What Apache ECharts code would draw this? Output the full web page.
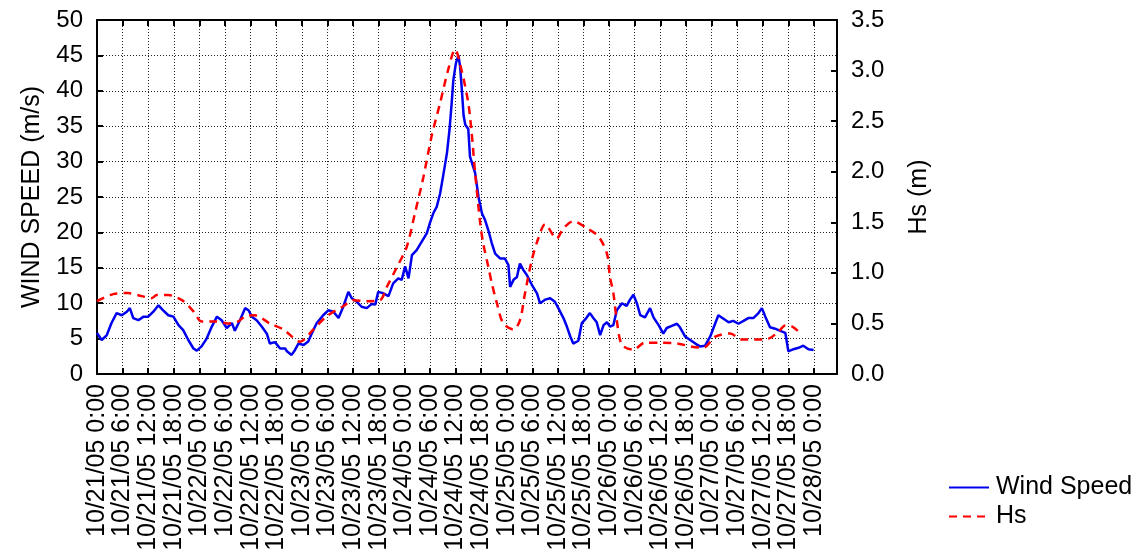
<!DOCTYPE html>
<html>
<head>
<meta charset="utf-8">
<script src="https://cdn.jsdelivr.net/npm/echarts@6/dist/echarts.min.js"></script>
<style>
html,body{margin:0;padding:0;background:#fff;}
#chart{width:1144px;height:560px;}
</style>
</head>
<body>
<div id="chart"></div>
<script>
// hours since 10/21/05 0:00
const xTickLabels = [
  '10/21/05 0:00','10/21/05 6:00','10/21/05 12:00','10/21/05 18:00',
  '10/22/05 0:00','10/22/05 6:00','10/22/05 12:00','10/22/05 18:00',
  '10/23/05 0:00','10/23/05 6:00','10/23/05 12:00','10/23/05 18:00',
  '10/24/05 0:00','10/24/05 6:00','10/24/05 12:00','10/24/05 18:00',
  '10/25/05 0:00','10/25/05 6:00','10/25/05 12:00','10/25/05 18:00',
  '10/26/05 0:00','10/26/05 6:00','10/26/05 12:00','10/26/05 18:00',
  '10/27/05 0:00','10/27/05 6:00','10/27/05 12:00','10/27/05 18:00',
  '10/28/05 0:00'
];
const windHours = [0,1.1,2.3,3.4,4.6,5.8,7.0,7.7,8.5,9.7,10.9,12.0,13.2,14.4,15.5,16.7,17.9,19.1,20.2,21.4,22.6,23.4,24.5,25.7,26.9,28.1,29.2,30.4,31.6,32.3,33.5,34.7,35.5,36.3,37.4,38.6,39.8,40.5,41.7,42.9,44.1,44.5,45.6,46.4,47.2,48.4,49.5,50.3,51.5,53.0,54.2,55.4,56.6,57.7,58.9,59.7,60.9,62.0,63.2,64.4,65.2,65.9,67.1,68.3,69.4,70.6,71.4,72.2,73.0,73.8,74.9,76.1,77.3,78.0,78.8,79.6,80.4,81.2,82.0,82.6,83.1,83.5,84.1,84.7,85.1,85.5,85.9,86.3,87.0,87.4,88.6,89.4,90.2,90.9,91.7,92.5,93.3,94.5,95.6,96.4,96.8,97.6,98.4,99.1,99.9,100.7,101.9,103.1,103.8,105.0,106.2,107.3,108.1,109.3,110.1,110.9,111.6,112.8,113.6,114.4,115.5,116.3,117.1,117.9,118.7,119.5,120.2,121.0,121.8,123.0,124.1,124.9,125.7,126.5,127.3,128.4,129.6,130.4,131.6,132.7,133.5,134.7,135.9,136.6,137.8,139.0,140.2,141.3,142.5,143.7,144.9,145.6,146.8,148.0,149.1,150.3,151.5,152.6,153.8,155.0,155.8,156.6,157.7,158.9,160.1,161.3,161.6,162.0,163.2,164.4,165.5,166.7,167.9];
const windSpeed = [5.8,4.8,5.5,7.2,8.6,8.3,8.8,9.3,7.9,7.6,8.1,8.1,8.8,9.7,9.0,8.3,8.1,6.9,6.2,4.8,3.6,3.3,3.9,5.0,6.7,8.1,7.6,6.5,7.2,6.1,7.6,9.3,9.0,8.1,7.6,6.7,5.7,4.3,4.5,3.6,3.6,3.2,2.7,3.4,4.3,4.1,4.6,5.7,7.2,8.3,9.0,8.8,7.9,9.5,11.6,10.7,10.2,9.5,9.3,9.9,9.8,11.6,11.4,11.0,12.8,13.5,13.3,15.2,13.5,16.8,17.5,18.7,19.9,21.3,22.7,23.6,25.5,28.3,31.2,34.5,38.2,41.5,43.9,45.0,43.3,40.1,36.5,35.2,34.6,30.7,28.4,25.0,22.7,21.8,20.3,18.5,17.0,16.3,16.3,15.4,12.3,13.3,13.7,15.6,14.7,14.0,12.6,11.4,10.0,10.5,10.7,10.2,9.3,7.9,6.7,5.3,4.3,4.7,7.2,7.7,8.6,7.9,7.3,5.5,6.9,7.3,6.7,6.9,9.0,10.0,9.6,10.5,11.2,10.0,8.3,8.0,9.3,8.0,6.9,5.7,6.5,6.8,7.1,6.6,5.3,4.8,4.3,3.9,4.0,5.3,7.2,8.3,7.8,7.3,7.5,7.1,7.5,7.9,7.9,8.6,9.3,8.1,6.6,6.4,6.1,5.8,6.0,3.2,3.5,3.7,4.0,3.5,3.4];
const hsHours = [0,3.8,7.3,10.5,12.8,14.0,16.7,19.9,22.6,24.5,27.7,30.8,33.1,34.7,37.0,40.5,43.7,47.6,50.7,53.8,57.7,60.1,63.2,66.3,67.9,70.2,72.6,74.5,76.5,78.4,80.4,82.3,83.9,85.5,87.0,87.8,88.6,89.8,90.5,91.7,92.5,93.7,95.2,97.6,99.1,100.3,101.9,103.4,105.0,107.7,109.3,111.6,114.8,117.5,119.5,120.2,121.0,121.8,123.0,125.7,128.4,132.3,136.2,139.4,142.1,144.9,148.4,151.1,154.2,157.4,159.7,161.3,162.8,164.4];
const hsValues = [0.72,0.79,0.80,0.77,0.75,0.78,0.78,0.73,0.62,0.52,0.52,0.50,0.52,0.57,0.58,0.50,0.44,0.32,0.44,0.57,0.67,0.73,0.72,0.73,0.86,1.05,1.26,1.59,1.95,2.35,2.68,3.01,3.21,2.99,2.68,2.38,1.99,1.49,1.29,1.06,0.90,0.70,0.50,0.44,0.53,0.80,1.13,1.34,1.48,1.34,1.44,1.51,1.44,1.36,1.19,0.96,0.80,0.53,0.29,0.24,0.31,0.31,0.30,0.27,0.26,0.37,0.40,0.34,0.34,0.35,0.42,0.48,0.47,0.42];

const FONT = '"Liberation Sans", Arial, sans-serif';
const X_MAX = 173.4;

function xLabel(v) {
  const i = Math.round(v / 6);
  if (Math.abs(v - i * 6) > 1e-6 || i < 0 || i >= xTickLabels.length) return '';
  return xTickLabels[i];
}

const chart = echarts.init(document.getElementById('chart'), null, {renderer: 'canvas'});
const axisLine = {show: true, onZero: false, lineStyle: {color: '#000', width: 2}};
const tick = {show: true, inside: true, length: 6, lineStyle: {color: '#000', width: 2}};
const dotted = {show: true, lineStyle: {color: '#222', width: 1, type: [1, 2]}};

chart.setOption({
  animation: false,
  backgroundColor: '#fff',
  textStyle: {fontFamily: FONT},
  grid: {left: 97, top: 20, width: 740, height: 354, containLabel: false, outerBoundsMode: 'none'},
  legend: {
    orient: 'vertical', left: 943, top: 470, itemWidth: 40, itemHeight: 14, itemGap: 4,
    itemStyle: {opacity: 0},
    textStyle: {fontSize: 25, color: '#000', fontFamily: FONT, padding: [0, 0, 0, 2]},
    data: ['Wind Speed', 'Hs']
  },
  xAxis: [{
    type: 'value', position: 'bottom', min: 0, max: X_MAX, interval: 6,
    axisLine: axisLine, axisTick: tick, splitLine: dotted,
    axisLabel: {rotate: 90, margin: 10, fontSize: 25, color: '#000', fontFamily: FONT, formatter: xLabel, showMaxLabel: true}
  }, {
    type: 'value', position: 'top', min: 0, max: X_MAX, interval: 6,
    axisLine: axisLine, axisTick: tick, splitLine: {show: false}, axisLabel: {show: false}
  }],
  yAxis: [{
    type: 'value', position: 'left', min: 0, max: 50, interval: 5,
    name: 'WIND SPEED (m/s)', nameLocation: 'middle', nameGap: 52,
    nameTextStyle: {fontSize: 25, color: '#000', fontFamily: FONT},
    axisLine: axisLine, axisTick: tick, splitLine: dotted,
    axisLabel: {fontSize: 24, color: '#000', margin: 14, fontFamily: FONT}
  }, {
    type: 'value', position: 'right', min: 0, max: 3.5, interval: 0.5,
    name: 'Hs (m)', nameLocation: 'middle', nameGap: 70,
    nameTextStyle: {fontSize: 25, color: '#000', fontFamily: FONT},
    axisLine: axisLine, axisTick: tick, splitLine: {show: false},
    axisLabel: {fontSize: 24, color: '#000', margin: 14, fontFamily: FONT, formatter: v => v.toFixed(1)}
  }],
  series: [{
    name: 'Wind Speed', type: 'line', xAxisIndex: 0, yAxisIndex: 0,
    symbol: 'none', lineStyle: {color: '#0000ee', width: 2.5}, itemStyle: {color: '#0000ee'},
    data: windHours.map((h, i) => [h, windSpeed[i]]), z: 3
  }, {
    name: 'Hs', type: 'line', xAxisIndex: 0, yAxisIndex: 1,
    symbol: 'none', smooth: 0.3,
    lineStyle: {color: '#ff0000', width: 2.5, type: [8, 6]}, itemStyle: {color: '#ff0000'},
    data: hsHours.map((h, i) => [h, hsValues[i]]), z: 4
  }]
});
</script>
</body>
</html>
